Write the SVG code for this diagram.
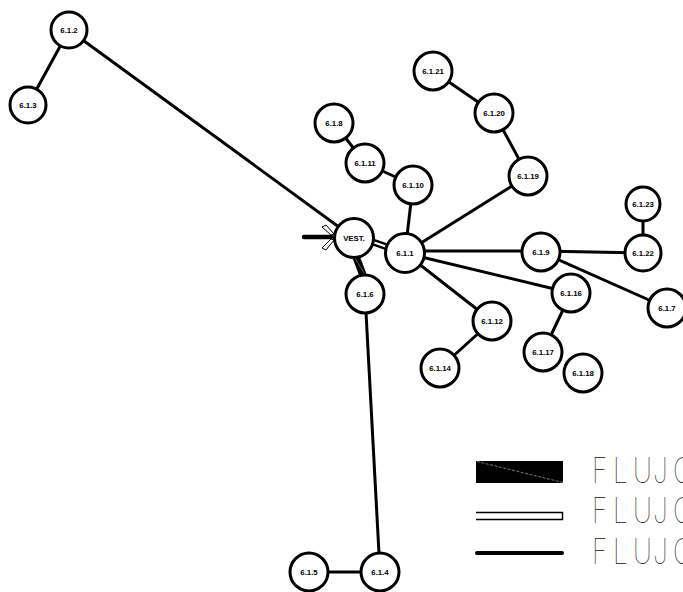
<svg xmlns="http://www.w3.org/2000/svg" width="683" height="592" viewBox="0 0 683 592">
<style>
.n circle{fill:#fff;stroke:#000;stroke-width:3}
.n text{font-family:"Liberation Sans",Arial,sans-serif;font-weight:bold;font-size:7.8px;text-anchor:middle;fill:#000}
.c line{stroke:#000;stroke-width:3;stroke-linecap:round}
.lg{font-family:Inter,"DejaVu Sans",sans-serif;font-weight:100;font-size:35px;fill:#111}
</style>
<rect width="683" height="592" fill="#fff"/>
<g id="connectors" class="c">
<line x1="69" y1="30" x2="28" y2="105"/>
<line x1="69" y1="30" x2="354" y2="238"/>
<line x1="433" y1="71" x2="494" y2="113"/>
<line x1="494" y1="113" x2="528" y2="176"/>
<line x1="528" y1="176" x2="405" y2="253"/>
<line x1="334" y1="123" x2="365" y2="163"/>
<line x1="365" y1="163" x2="413" y2="185"/>
<line x1="413" y1="185" x2="405" y2="253"/>
<line x1="643" y1="204" x2="643" y2="253"/>
<line x1="643" y1="253" x2="541" y2="251"/>
<line x1="541" y1="251" x2="405" y2="251"/>
<line x1="541" y1="252" x2="667" y2="308"/>
<line x1="405" y1="253" x2="571" y2="293"/>
<line x1="571" y1="293" x2="543" y2="352"/>
<line x1="405" y1="253" x2="492" y2="321"/>
<line x1="492" y1="321" x2="440" y2="368"/>
<line x1="365" y1="294" x2="380" y2="572"/>
<line x1="380" y1="572" x2="309" y2="572"/>
<line x1="304" y1="237" x2="331" y2="237" style="stroke-width:4.5"/>
<line x1="370" y1="241" x2="390" y2="248" style="stroke-width:7;stroke-linecap:butt"/>
<line x1="370" y1="241" x2="390" y2="248" style="stroke:#fff;stroke-width:2;stroke-linecap:butt"/>
<line x1="355" y1="254" x2="364" y2="278" style="stroke-width:7.5;stroke-linecap:butt"/>
<line x1="353" y1="255" x2="366" y2="276" style="stroke:#999;stroke-width:0.6"/>
<polygon points="322,227 326,225 334,234 331,235" fill="#fff" stroke="#000" stroke-width="1"/>
<polygon points="322,248 326,250 334,240 331,239" fill="#fff" stroke="#000" stroke-width="1"/>
</g>
<g id="n612" class="n"><circle cx="69" cy="30" r="18"/><text x="69" y="32.7">6.1.2</text></g>
<g id="n613" class="n"><circle cx="28" cy="105" r="18"/><text x="28" y="107.7">6.1.3</text></g>
<g id="vest" class="n"><circle cx="354" cy="238" r="19.5"/><text x="354" y="240.7">VEST.</text></g>
<g id="n611" class="n"><circle cx="405" cy="253" r="19.5"/><text x="405" y="255.7">6.1.1</text></g>
<g id="n616" class="n"><circle cx="365" cy="294" r="19"/><text x="365" y="296.7">6.1.6</text></g>
<g id="n614" class="n"><circle cx="380" cy="572" r="19"/><text x="380" y="574.7">6.1.4</text></g>
<g id="n615" class="n"><circle cx="309" cy="572" r="19"/><text x="309" y="574.7">6.1.5</text></g>
<g id="n6121" class="n"><circle cx="433" cy="71" r="19"/><text x="433" y="73.7">6.1.21</text></g>
<g id="n6120" class="n"><circle cx="494" cy="113" r="19"/><text x="494" y="115.7">6.1.20</text></g>
<g id="n6119" class="n"><circle cx="528" cy="176" r="19"/><text x="528" y="178.7">6.1.19</text></g>
<g id="n618" class="n"><circle cx="334" cy="123" r="19"/><text x="334" y="125.7">6.1.8</text></g>
<g id="n6111" class="n"><circle cx="365" cy="163" r="19"/><text x="365" y="165.7">6.1.11</text></g>
<g id="n6110" class="n"><circle cx="413" cy="185" r="19"/><text x="413" y="187.7">6.1.10</text></g>
<g id="n6123" class="n"><circle cx="643" cy="204" r="17"/><text x="643" y="206.7">6.1.23</text></g>
<g id="n6122" class="n"><circle cx="643" cy="253" r="18"/><text x="643" y="255.7">6.1.22</text></g>
<g id="n619" class="n"><circle cx="541" cy="252" r="19"/><text x="541" y="254.7">6.1.9</text></g>
<g id="n617" class="n"><circle cx="667" cy="308" r="19"/><text x="667" y="310.7">6.1.7</text></g>
<g id="n6116" class="n"><circle cx="571" cy="293" r="19"/><text x="571" y="295.7">6.1.16</text></g>
<g id="n6117" class="n"><circle cx="543" cy="352" r="19"/><text x="543" y="354.7">6.1.17</text></g>
<g id="n6118" class="n"><circle cx="583" cy="373" r="19"/><text x="583" y="375.7">6.1.18</text></g>
<g id="n6112" class="n"><circle cx="492" cy="321" r="19"/><text x="492" y="323.7">6.1.12</text></g>
<g id="n6114" class="n"><circle cx="440" cy="368" r="19"/><text x="440" y="370.7">6.1.14</text></g>
<g id="legend">
<rect x="476" y="461" width="87" height="22" fill="#000"/>
<line x1="477" y1="461.5" x2="563" y2="482.5" stroke="#aaa" stroke-width="0.7" stroke-dasharray="3 1.5"/>
<path d="M476,512.5 H562.5 V519.5 H476" fill="#fff" stroke="#000" stroke-width="1.5"/>
<line x1="477" y1="553" x2="562" y2="553" stroke="#000" stroke-width="4" stroke-linecap="round"/>
<g transform="scale(0.75 1)">
<text class="lg" x="789.3 817.3 844 870.7 897.3" y="483">FLUJO</text>
<text class="lg" x="789.3 817.3 844 870.7 897.3" y="523">FLUJO</text>
<text class="lg" x="789.3 817.3 844 870.7 897.3" y="564">FLUJO</text>
</g>
</g>
</svg>
